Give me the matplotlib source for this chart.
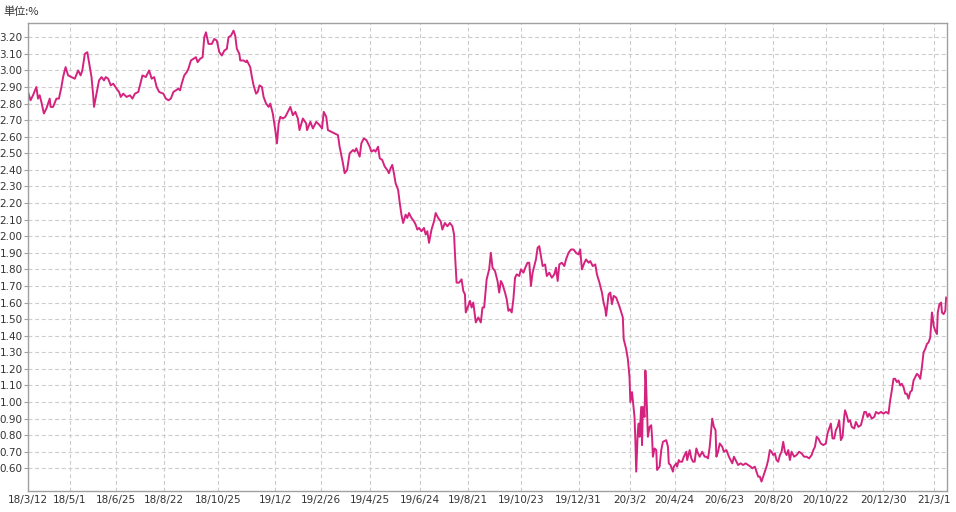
import pandas as pd
import matplotlib
matplotlib.use("Agg")
from matplotlib import pyplot as plt

START = "2018-03-12"

# days since 2018/3/12, value in %
days = [
    0, 3, 6, 10, 12, 14, 16, 19, 22, 26, 27, 30, 34, 37, 40, 42, 45, 48, 52, 56,
    60, 63, 65, 68, 71, 73, 76, 78, 79, 82, 85, 88, 91, 93, 96, 99, 102, 106, 109, 111,
    114, 118, 122, 125, 128, 132, 134, 137, 141, 145, 148, 151, 154, 157, 162, 165, 168, 171, 174, 177,
    180, 182, 184, 187, 190, 192, 195, 198, 201, 203, 206, 209, 211, 213, 216, 220, 223, 226, 229, 232,
    235, 238, 240, 243, 246, 248, 250, 253, 254, 258, 261, 262, 266, 268, 270, 273, 275, 277, 280, 282,
    285, 288, 290, 293, 296, 298, 300, 302, 305, 308, 310, 314, 317, 320, 323, 325, 329, 333, 334, 338,
    341, 345,
    349, 352, 354, 357, 359, 363, 367, 371, 373, 377, 379, 382, 385, 389, 391, 393, 397, 399, 402, 405,
    409, 411, 414, 416, 419, 421, 424, 427, 430, 432, 434, 436, 438, 440, 443, 445, 447, 449, 452, 454,
    456, 459, 462, 464, 466, 468, 471, 474, 476, 478, 480, 483, 486, 488, 491, 494, 496, 499, 502, 505,
    508, 510, 511, 513, 516, 519, 521, 523, 524, 527, 529, 531, 533, 536, 539, 542, 544, 546, 549, 552,
    554, 556, 559, 562, 564, 566, 568, 571, 573, 575, 577, 579, 581, 583, 585, 588, 590, 593, 596, 598,
    600, 602, 604, 606, 608, 610, 612, 614, 616, 619, 621, 624, 627, 630, 632, 634, 636, 639, 642, 644,
    647, 650, 653, 656, 659, 661, 663, 666, 668, 671,
    673, 676, 679, 681, 684, 687, 689, 691, 692, 695, 697, 699, 701, 704, 707, 709, 712, 713, 716, 718,
    720, 721, 723, 724, 726, 727, 728, 730, 731, 732, 734, 735, 736, 738, 739, 740, 742, 744, 746, 747,
    748, 750, 752, 753, 756, 758, 760, 764, 766, 767, 769, 772, 773, 776, 777, 779, 780, 783, 785, 788,
    789, 792, 794, 796, 798, 800, 802, 804, 807, 810, 812, 814, 816, 819, 821, 823, 824, 826, 828, 831,
    833, 836, 839, 841, 843, 845, 847, 850, 853, 856, 859, 862, 865, 867, 870, 872, 874, 876, 878, 880,
    882, 884, 886, 888, 890, 892, 894, 896, 898, 900, 902, 904, 906, 908, 910, 912, 914, 917, 920, 923,
    926, 929, 932, 935, 938, 940, 942, 944, 946, 949, 952, 955, 957, 959, 961, 963, 965, 967, 969, 971,
    973, 975, 977, 978, 980, 982, 984, 986, 989, 991, 994, 997, 999, 1001, 1003, 1005, 1007, 1010, 1013, 1015,
    1018, 1021, 1024, 1027, 1030, 1032, 1034, 1036, 1038, 1040, 1042, 1044, 1046, 1048, 1050, 1052, 1054, 1056, 1058, 1060,
    1062, 1064, 1066, 1068, 1070, 1072, 1074, 1076, 1078, 1080, 1082, 1083, 1084, 1086, 1088, 1089, 1091, 1093, 1094, 1096,
    1098, 1099,
]
yields = [
    2.87, 2.82, 2.85, 2.90, 2.83, 2.85, 2.81, 2.74, 2.77, 2.83, 2.78, 2.78, 2.83, 2.83, 2.90, 2.96, 3.02, 2.97, 2.96, 2.95,
    3.00, 2.97, 3.00, 3.10, 3.11, 3.05, 2.96, 2.85, 2.78, 2.86, 2.94, 2.96, 2.94, 2.96, 2.95, 2.91, 2.92, 2.89, 2.87, 2.84,
    2.86, 2.84, 2.85, 2.83, 2.86, 2.87, 2.91, 2.97, 2.96, 3.00, 2.95, 2.96, 2.90, 2.87, 2.86, 2.83, 2.82, 2.83, 2.87, 2.88,
    2.89, 2.88, 2.92, 2.97, 2.99, 3.01, 3.06, 3.07, 3.08, 3.05, 3.07, 3.08, 3.20, 3.23, 3.16, 3.16, 3.19, 3.18, 3.11, 3.09,
    3.12, 3.13, 3.20, 3.21, 3.24, 3.21, 3.13, 3.10, 3.06, 3.06, 3.05, 3.06, 3.02, 2.96, 2.91, 2.86, 2.87, 2.91, 2.90, 2.84,
    2.80, 2.78, 2.80, 2.74, 2.64, 2.56, 2.68, 2.72, 2.71, 2.72, 2.74, 2.78, 2.73, 2.75, 2.71, 2.64, 2.71, 2.68, 2.64, 2.69,
    2.65, 2.69,
    2.67, 2.65, 2.75, 2.72, 2.64, 2.63, 2.62, 2.61, 2.54, 2.44, 2.38, 2.40, 2.50, 2.52, 2.51, 2.53, 2.48, 2.56, 2.59, 2.58,
    2.54, 2.51, 2.52, 2.51, 2.54, 2.47, 2.46, 2.42, 2.40, 2.38, 2.41, 2.43, 2.38, 2.32, 2.28, 2.20, 2.13, 2.08, 2.13, 2.11,
    2.14, 2.11, 2.09, 2.07, 2.04, 2.05, 2.03, 2.05, 2.01, 2.03, 1.96, 2.04, 2.09, 2.14, 2.11, 2.09, 2.04, 2.08, 2.06, 2.08,
    2.06, 2.01, 1.90, 1.72, 1.72, 1.74, 1.67, 1.65, 1.54, 1.58, 1.61, 1.57, 1.60, 1.48, 1.51, 1.48, 1.57, 1.57, 1.74, 1.80,
    1.90, 1.81, 1.79, 1.73, 1.66, 1.73, 1.71, 1.66, 1.62, 1.55, 1.56, 1.54, 1.62, 1.75, 1.77, 1.76, 1.80, 1.78, 1.82, 1.84,
    1.84, 1.70, 1.78, 1.82, 1.86, 1.93, 1.94, 1.88, 1.82, 1.83, 1.76, 1.78, 1.75, 1.77, 1.81, 1.73, 1.83, 1.84, 1.82, 1.86,
    1.90, 1.92, 1.92, 1.90, 1.89, 1.92, 1.80, 1.84, 1.86, 1.84,
    1.85, 1.82, 1.83, 1.77, 1.72, 1.66, 1.60, 1.56, 1.52, 1.65, 1.66, 1.59, 1.64, 1.63, 1.59, 1.56, 1.51, 1.38, 1.32, 1.26,
    1.15, 1.00, 1.06, 1.01, 0.91, 0.77, 0.58, 0.83, 0.87, 0.79, 0.97, 0.74, 0.97, 0.91, 1.19, 1.09, 0.79, 0.85, 0.86, 0.79,
    0.67, 0.72, 0.71, 0.59, 0.61, 0.71, 0.76, 0.77, 0.73, 0.63, 0.62, 0.58, 0.61, 0.63, 0.61, 0.65, 0.64, 0.64, 0.67, 0.70,
    0.65, 0.71, 0.66, 0.64, 0.64, 0.72, 0.69, 0.67, 0.70, 0.67, 0.67, 0.66, 0.73, 0.90, 0.85, 0.83, 0.67, 0.70, 0.75, 0.73,
    0.70, 0.71, 0.67, 0.65, 0.63, 0.67, 0.65, 0.62, 0.63, 0.62, 0.63, 0.62, 0.61, 0.60, 0.61, 0.58, 0.55, 0.55, 0.52, 0.55,
    0.58, 0.61, 0.65, 0.71, 0.70, 0.68, 0.69, 0.65, 0.64, 0.68, 0.70, 0.76, 0.70, 0.68, 0.71, 0.65, 0.70, 0.67, 0.68, 0.70,
    0.69, 0.67, 0.67, 0.66, 0.68, 0.71, 0.73, 0.79, 0.78, 0.75, 0.74, 0.75, 0.81, 0.84, 0.87, 0.78, 0.78, 0.83, 0.85, 0.89,
    0.77, 0.79, 0.91, 0.95, 0.92, 0.88, 0.89, 0.85, 0.84, 0.88, 0.85, 0.86, 0.90, 0.94, 0.94, 0.91, 0.93, 0.90, 0.91, 0.94,
    0.93, 0.94, 0.93, 0.94, 0.93, 1.01, 1.07, 1.14, 1.14, 1.12, 1.13, 1.10, 1.11, 1.09, 1.05, 1.05, 1.02, 1.06, 1.07, 1.13,
    1.15, 1.17, 1.16, 1.14, 1.21, 1.30, 1.32, 1.35, 1.36, 1.39, 1.54, 1.51, 1.46, 1.43, 1.41, 1.54, 1.59, 1.60, 1.54, 1.53,
    1.55, 1.63,
]

tick_dates = ["2018-03-12", "2018-05-01", "2018-06-25", "2018-08-22", "2018-10-25",
              "2019-01-02", "2019-02-26", "2019-04-25", "2019-06-24", "2019-08-21",
              "2019-10-23", "2019-12-31", "2020-03-02", "2020-04-24", "2020-06-23",
              "2020-08-20", "2020-10-22", "2020-12-30", "2021-03-01"]
tick_labels = ["18/3/12", "18/5/1", "18/6/25", "18/8/22", "18/10/25",
               "19/1/2", "19/2/26", "19/4/25", "19/6/24", "19/8/21",
               "19/10/23", "19/12/31", "20/3/2", "20/4/24", "20/6/23",
               "20/8/20", "20/10/22", "20/12/30", "21/3/1"]
y_ticks = [round(0.6 + 0.1 * i, 2) for i in range(27)]

start = pd.Timestamp(START)
dates = start + pd.to_timedelta(days, unit="D")

fig = plt.figure(figsize=(9.56, 5.12), dpi=100)
ax = fig.add_axes([0.0293, 0.0416, 0.9616, 0.9141])

ax.plot(dates, yields, color="#d4237f", lw=1.4)

ax.set_xlim(start, start + pd.Timedelta(days=1100.4))
ax.set_ylim(0.465, 3.288)

ax.set_xticks(pd.to_datetime(tick_dates))
ax.set_xticklabels(tick_labels)
ax.set_yticks(y_ticks)
ax.set_yticklabels([f"{v:.2f}" for v in y_ticks])

ax.grid(True, color="#cccccc", linestyle=(0, (3.5, 2.5)), linewidth=0.8)
ax.set_axisbelow(True)
for s in ax.spines.values():
    s.set_color("#a0a0a0")
    s.set_linewidth(1.0)
ax.tick_params(axis="y", length=3, width=0.8, color="#a0a0a0", labelsize=7.5, labelcolor="#333333", pad=1)
ax.tick_params(axis="x", length=0, labelsize=7.5, labelcolor="#333333", pad=3)

fig.text(0.004, 0.978, "単位:%", fontsize=8, color="#333333", va="center", ha="left",
         family=["Noto Sans CJK JP", "DejaVu Sans"])

plt.savefig("out.png", dpi=100)
